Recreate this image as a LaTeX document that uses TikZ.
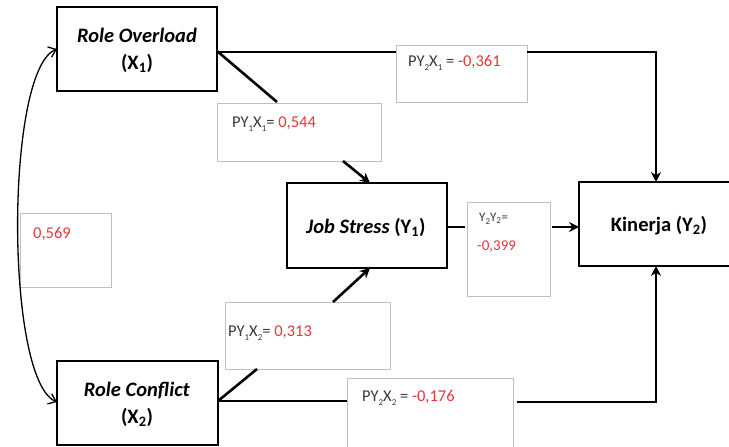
\documentclass[tikz,border=0pt]{standalone}
\usepackage{fontspec}
\setmainfont{Carlito}
\usetikzlibrary{arrows.meta}
\definecolor{lbl}{HTML}{3A3A3A}
\definecolor{val}{HTML}{E0383E}
\newcommand{\lsub}[1]{\raisebox{-0.55ex}{\fontsize{9}{9}\selectfont #1}}
\tikzset{
  varbox/.style={draw=black, line width=2.6pt, fill=white, inner sep=0pt},
  lblbox/.style={draw=black!25, line width=0.6pt, fill=white, inner sep=0pt},
  lbltext/.style={text=lbl, font=\fontsize{16.5}{18}\selectfont, anchor=west, inner sep=0pt},
  conn/.style={line width=2.6pt},
  arr/.style={conn, -{Stealth[length=10pt,width=10pt]}},
  corr/.style={line width=1.3pt, {Straight Barb[length=7pt,width=11pt]}-{Straight Barb[length=7pt,width=11pt]}}
}
\begin{document}
\begin{tikzpicture}[x=1pt,y=-1pt]
\useasboundingbox (0,0) rectangle (729,447);
\clip (0,0) rectangle (729,447);
% variable boxes
\draw[varbox] (57,7) rectangle (217,91);
\node (ro) at (137,50) [align=center, font=\fontsize{20.5}{27}\selectfont\bfseries] {\textit{Role Overload}\\(X\textsubscript{1})};
\coordinate (roE) at (217,51);
\coordinate (roW) at (57,49);

\draw[varbox] (57,361) rectangle (218,445);
\node (rc) at (137,404) [align=center, font=\fontsize{20.5}{27}\selectfont\bfseries] {\textit{Role Conflict}\\(X\textsubscript{2})};
\coordinate (rcE) at (218,401);
\coordinate (rcW) at (57,402);

\draw[varbox] (287,183) rectangle (447,268);
\node (js) at (366,227) [font=\fontsize{20.5}{22}\selectfont\bfseries] {\textit{Job Stress} (Y\textsubscript{1})};
\coordinate (jsN) at (370,183);
\coordinate (jsS) at (370,268);
\coordinate (jsE) at (447,227);

\draw[varbox] (579,182) rectangle (740,266);
\node (kn) at (659,226) [font=\fontsize{20.5}{22}\selectfont\bfseries] {Kinerja (Y\textsubscript{2})};
\coordinate (knN) at (656,182);
\coordinate (knS) at (656,266);
\coordinate (knW) at (579,227);

% label boxes
\draw[lblbox] (217,103) rectangle (381,161);
\node[lbltext] (l1) at (232,124) {PY\lsub{1}X\lsub{1}= \textcolor{val}{0,544}};
\draw[lblbox] (396,45) rectangle (527,102);
\node[lbltext] (l2) at (408,63) {PY\lsub{2}X\lsub{1} = \textcolor{val}{-0,361}};
\draw[lblbox] (225,302) rectangle (390,369);
\node[lbltext] (l3) at (228,333) {PY\lsub{1}X\lsub{2}= \textcolor{val}{0,313}};
\draw[lblbox] (347,378) rectangle (513,447);
\node[lbltext] (l4) at (362,398) {PY\lsub{2}X\lsub{2} = \textcolor{val}{-0,176}};
\draw[lblbox] (467,202) rectangle (550,296);
\node[lbltext, font=\fontsize{13}{14}\selectfont] (l5a) at (479,219) {Y\lsub{2}Y\textsubscript{2}=};
\node[lbltext, font=\fontsize{15}{16}\selectfont] (l5b) at (477,247) {\textcolor{val}{-0,399}};
\draw[lblbox] (20,213) rectangle (111,287);
\node[lbltext] (l6) at (33,234) {\textcolor{val}{0,569}};

% connectors
\coordinate (a1) at (277,102);
\coordinate (a2) at (343,161);
\draw[conn] (roE) -- (a1);
\draw[arr] (a2) -- (jsN);

\coordinate (b1) at (396,52);
\coordinate (b2) at (527,52);
\draw[conn] (roE |- b1) -- (b1);
\draw[arr] (b2) -- (656,52) -- (knN);

\coordinate (c1) at (257,369);
\coordinate (c2) at (333,302);
\draw[conn] (rcE) -- (c1);
\draw[arr] (c2) -- (jsS);

\coordinate (d1) at (347,401);
\coordinate (d2) at (517,402);
\draw[conn] (rcE) -- (d1);
\draw[arr] (d2) -- (656,402) -- (knS);

\coordinate (e1) at (465,227);
\coordinate (e2) at (552,227);
\draw[conn] (jsE) -- (e1);
\draw[arr] (e2) -- (knW);

\draw[corr] (roW) .. controls (5,70) and (5,380) .. (rcW);
\end{tikzpicture}
\end{document}
